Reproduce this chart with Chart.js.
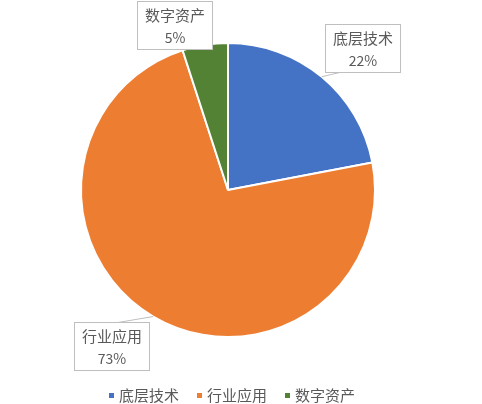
<!DOCTYPE html>
<html>
<head>
<meta charset="utf-8">
<script src="https://cdn.jsdelivr.net/npm/chart.js@4/dist/chart.umd.min.js"></script>
<style>
  html, body { margin: 0; padding: 0; background: #ffffff; }
  #wrap { width: 482px; height: 404px; position: relative; }
</style>
</head>
<body>
<div id="wrap"><canvas id="c"></canvas></div>
<script>
const categories = ['底层技术', '行业应用', '数字资产'];
const shareValues = [22, 73, 5];
const sliceColors = ['#4472C4', '#ED7D31', '#548235'];

// Label placement relative to each slice (angle shift in degrees, distance in radius units,
// fraction along box edge where the leader line attaches; null = no leader line)
const labelLayout = [
  { shift: 4, dist: 1.33, attach: 0.19 },
  { shift: 6.3, dist: 1.325, attach: 0.58 },
  { shift: -8.9, dist: 1.176, attach: null }
];

const FONT = '"Noto Sans CJK SC", "Noto Sans", sans-serif';
const TEXT_COLOR = '#595959';

const calloutPlugin = {
  id: 'callouts',
  afterDatasetsDraw(chart) {
    const ctx = chart.ctx;
    const meta = chart.getDatasetMeta(0);
    const data = chart.data.datasets[0].data;
    const total = data.reduce((a, b) => a + b, 0);
    const boxW = 75, boxH = 48;
    meta.data.forEach((arc, i) => {
      const p = arc.getProps(['x', 'y', 'startAngle', 'endAngle', 'outerRadius'], true);
      const mid = (p.startAngle + p.endAngle) / 2;
      const lay = labelLayout[i];
      const ang = mid + lay.shift * Math.PI / 180;
      const cx = p.x + Math.cos(ang) * p.outerRadius * lay.dist;
      const cy = p.y + Math.sin(ang) * p.outerRadius * lay.dist;
      const left = Math.round(cx - boxW / 2) + 0.5;
      const top = Math.round(cy - boxH / 2) + 0.5;

      ctx.save();
      if (lay.attach !== null) {
        const ax = p.x + Math.cos(mid) * p.outerRadius;
        const ay = p.y + Math.sin(mid) * p.outerRadius;
        const bx = left + boxW * lay.attach;
        const by = (ay > top + boxH) ? top + boxH : top;
        ctx.strokeStyle = '#BFBFBF';
        ctx.lineWidth = 1;
        ctx.beginPath();
        ctx.moveTo(ax, ay);
        ctx.lineTo(bx, by);
        ctx.stroke();
      }
      ctx.fillStyle = '#ffffff';
      ctx.fillRect(left, top, boxW, boxH);
      ctx.strokeStyle = '#BFBFBF';
      ctx.lineWidth = 1;
      ctx.strokeRect(left, top, boxW, boxH);
      ctx.fillStyle = TEXT_COLOR;
      ctx.textAlign = 'center';
      ctx.textBaseline = 'middle';
      ctx.font = '15px ' + FONT;
      ctx.fillText(chart.data.labels[i], left + boxW / 2, top + 13.5);
      ctx.font = '14px ' + FONT;
      const pct = Math.round(data[i] / total * 100) + '%';
      ctx.fillText(pct, left + boxW / 2, top + 36);
      ctx.restore();
    });

    // legend
    ctx.save();
    ctx.font = '15px ' + FONT;
    ctx.textBaseline = 'middle';
    ctx.textAlign = 'left';
    const sq = 5, gapText = 5, gapItem = 18;
    const widths = chart.data.labels.map(l => ctx.measureText(l).width);
    const totalW = widths.reduce((a, w) => a + sq + gapText + w, 0) + gapItem * (widths.length - 1);
    let x = meta.data[0].x + 4 - totalW / 2;
    const ly = 395.5;
    chart.data.labels.forEach((l, i) => {
      ctx.fillStyle = sliceColors[i];
      ctx.fillRect(Math.round(x), Math.round(ly - 2.5), sq, sq);
      ctx.fillStyle = TEXT_COLOR;
      ctx.fillText(l, x + sq + gapText, ly);
      x += sq + gapText + widths[i] + gapItem;
    });
    ctx.restore();
  }
};

new Chart(document.getElementById('c'), {
  type: 'pie',
  data: {
    labels: categories,
    datasets: [{
      data: shareValues,
      backgroundColor: sliceColors,
      borderColor: '#ffffff',
      borderWidth: 2
    }]
  },
  options: {
    responsive: true,
    maintainAspectRatio: false,
    animation: false,
    layout: { padding: { top: 42, bottom: 66, left: 0, right: 26 } },
    plugins: {
      legend: { display: false },
      tooltip: { enabled: false }
    }
  },
  plugins: [calloutPlugin]
});
</script>
</body>
</html>
